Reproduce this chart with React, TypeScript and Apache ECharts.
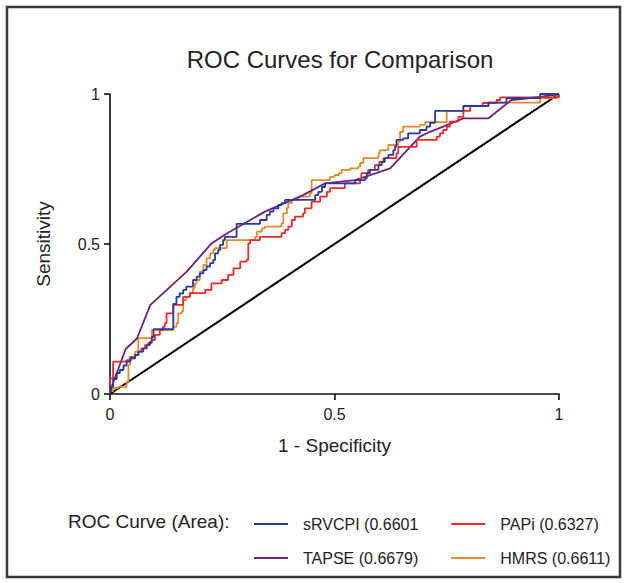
import React, { useEffect, useRef } from "react";
import * as echarts from "echarts";

const FONT = '"Liberation Sans", Arial, Helvetica, sans-serif';

const chartTitle = "ROC Curves for Comparison";
const xAxisTitle = "1 - Specificity";
const yAxisTitle = "Sensitivity";
const legendTitle = "ROC Curve (Area):";
const tickValues = [0, 0.5, 1];

const nameSRVCPI = "sRVCPI (0.6601";
const namePAPi = "PAPi (0.6327)";
const nameTAPSE = "TAPSE (0.6679)";
const nameHMRS = "HMRS (0.6611)";

// [1 - specificity, sensitivity] step points (horizontal then vertical)
const sRVCPI: number[][] = [
  [0, 0], [0, 0.024], [0.007, 0.05], [0.015, 0.07], [0.022, 0.08], [0.03, 0.095], [0.037, 0.108],
  [0.045, 0.119], [0.056, 0.13], [0.063, 0.141], [0.074, 0.152], [0.082, 0.163], [0.089, 0.174],
  [0.093, 0.19], [0.097, 0.216], [0.141, 0.3], [0.148, 0.324], [0.155, 0.335], [0.163, 0.347],
  [0.17, 0.358], [0.185, 0.38], [0.193, 0.391], [0.2, 0.402], [0.208, 0.413], [0.215, 0.425],
  [0.223, 0.436], [0.23, 0.447], [0.234, 0.469], [0.241, 0.48], [0.245, 0.497], [0.252, 0.513],
  [0.256, 0.524], [0.282, 0.567], [0.334, 0.58], [0.349, 0.597], [0.356, 0.608], [0.364, 0.619],
  [0.375, 0.63], [0.382, 0.636], [0.39, 0.647], [0.457, 0.663], [0.464, 0.674], [0.472, 0.69],
  [0.479, 0.702], [0.546, 0.713], [0.568, 0.719], [0.572, 0.736], [0.579, 0.747], [0.598, 0.763],
  [0.605, 0.774], [0.612, 0.786], [0.62, 0.797], [0.631, 0.813], [0.635, 0.825], [0.638, 0.847],
  [0.653, 0.852], [0.664, 0.869], [0.69, 0.88], [0.705, 0.891], [0.713, 0.904], [0.724, 0.944],
  [0.787, 0.96], [0.843, 0.971], [0.883, 0.986], [0.958, 1], [1, 1],
];

const PAPi: number[][] = [
  [0, 0], [0, 0.052], [0.007, 0.108], [0.037, 0.113], [0.045, 0.124], [0.055, 0.13], [0.063, 0.141],
  [0.07, 0.152], [0.078, 0.163], [0.085, 0.17], [0.093, 0.18], [0.1, 0.197], [0.111, 0.213],
  [0.118, 0.224], [0.122, 0.236], [0.126, 0.269], [0.141, 0.297], [0.163, 0.324], [0.178, 0.336],
  [0.212, 0.347], [0.226, 0.369], [0.249, 0.38], [0.263, 0.397], [0.275, 0.419], [0.29, 0.441],
  [0.304, 0.447], [0.308, 0.502], [0.312, 0.513], [0.334, 0.524], [0.382, 0.536], [0.39, 0.547],
  [0.397, 0.558], [0.405, 0.58], [0.412, 0.591], [0.43, 0.602], [0.434, 0.619], [0.449, 0.641],
  [0.468, 0.658], [0.483, 0.674], [0.49, 0.686], [0.523, 0.702], [0.557, 0.719], [0.56, 0.736],
  [0.575, 0.747], [0.59, 0.763], [0.6, 0.774], [0.609, 0.786], [0.638, 0.802], [0.642, 0.824],
  [0.683, 0.847], [0.728, 0.858], [0.735, 0.869], [0.742, 0.88], [0.75, 0.891], [0.757, 0.908],
  [0.776, 0.924], [0.787, 0.944], [0.802, 0.96], [0.83, 0.97], [0.861, 0.98], [0.869, 0.989],
  [1, 1],
];

// TAPSE is drawn as a polyline (tied values)
const TAPSE: number[][] = [
  [0, 0], [0.005, 0.03], [0.015, 0.07], [0.025, 0.11], [0.035, 0.15], [0.06, 0.185], [0.09, 0.297],
  [0.171, 0.408], [0.226, 0.502], [0.26, 0.535], [0.345, 0.608], [0.43, 0.663], [0.479, 0.702],
  [0.546, 0.713], [0.624, 0.752], [0.69, 0.858], [0.713, 0.874], [0.787, 0.919], [0.843, 0.919],
  [0.894, 0.98], [0.958, 0.99], [1, 1],
];

const HMRS: number[][] = [
  [0, 0], [0, 0.01], [0.007, 0.02], [0.018, 0.024], [0.037, 0.041], [0.041, 0.097], [0.045, 0.113],
  [0.048, 0.124], [0.056, 0.141], [0.063, 0.186], [0.093, 0.213], [0.141, 0.224], [0.148, 0.236],
  [0.152, 0.269], [0.16, 0.276], [0.163, 0.313], [0.17, 0.324], [0.178, 0.336], [0.185, 0.352],
  [0.189, 0.369], [0.193, 0.38], [0.2, 0.408], [0.208, 0.43], [0.215, 0.452], [0.223, 0.469],
  [0.23, 0.48], [0.234, 0.486], [0.26, 0.513], [0.323, 0.524], [0.327, 0.541], [0.338, 0.552],
  [0.345, 0.558], [0.382, 0.569], [0.386, 0.602], [0.394, 0.62], [0.397, 0.636], [0.405, 0.647],
  [0.42, 0.658], [0.445, 0.669], [0.449, 0.713], [0.49, 0.724], [0.5, 0.73], [0.51, 0.736],
  [0.516, 0.747], [0.535, 0.752], [0.553, 0.758], [0.557, 0.77], [0.564, 0.786], [0.598, 0.802],
  [0.601, 0.813], [0.62, 0.83], [0.642, 0.841], [0.646, 0.874], [0.653, 0.891], [0.69, 0.897],
  [0.702, 0.906], [0.75, 0.944], [0.787, 0.96], [0.843, 0.971], [0.958, 0.986], [0.995, 1], [1, 1],
];

const reference: number[][] = [[0, 0], [1, 1]];

const colors = {
  sRVCPI: "#2b3a9b",
  PAPi: "#ec2a2a",
  TAPSE: "#6c2279",
  HMRS: "#e38a2f",
};

export default function App() {
  const ref = useRef<HTMLDivElement>(null);
  useEffect(() => {
    if (!ref.current) return;
    const chart = echarts.init(ref.current, null, { renderer: "svg" });
    const textColor = "#222";
    const legendCommon = {
      orient: "horizontal",
      icon: "rect",
      itemWidth: 34,
      itemHeight: 2,
      itemGap: 33,
      padding: 0,
      selectedMode: false,
      textStyle: {
        fontFamily: FONT,
        fontSize: 16,
        color: textColor,
        width: 130,
        padding: [0, 0, 0, 10],
      },
    };
    const option: any = {
      animation: false,
      backgroundColor: "#fff",
      title: {
        text: chartTitle,
        left: 335,
        textAlign: "center",
        top: 42,
        textStyle: { fontFamily: FONT, fontSize: 24, fontWeight: "normal", color: textColor },
      },
      grid: { left: 110, right: 68, top: 94, bottom: 189, containLabel: false },
      xAxis: {
        type: "value",
        min: 0,
        max: 1,
        interval: 0.5,
        name: xAxisTitle,
        nameLocation: "middle",
        nameGap: 42,
        nameTextStyle: { fontFamily: FONT, fontSize: 19, color: textColor },
        axisLine: { show: true, onZero: false, lineStyle: { color: "#111", width: 1.6 } },
        axisTick: { show: true, inside: false, length: 6, lineStyle: { color: "#111", width: 1.6 } },
        axisLabel: {
          fontFamily: FONT,
          fontSize: 16,
          color: textColor,
          margin: 12,
          formatter: (v: number) => (tickValues.includes(v) ? String(v) : ""),
        },
        splitLine: { show: false },
      },
      yAxis: {
        type: "value",
        min: 0,
        max: 1,
        interval: 0.5,
        name: yAxisTitle,
        nameLocation: "middle",
        nameGap: 57,
        nameTextStyle: { fontFamily: FONT, fontSize: 19, color: textColor },
        axisLine: { show: true, onZero: false, lineStyle: { color: "#111", width: 1.6 } },
        axisTick: { show: true, inside: false, length: 6, lineStyle: { color: "#111", width: 1.6 } },
        axisLabel: {
          fontFamily: FONT,
          fontSize: 16,
          color: textColor,
          margin: 10,
          formatter: (v: number) => (tickValues.includes(v) ? String(v) : ""),
        },
        splitLine: { show: false },
      },
      legend: [
        { ...legendCommon, data: [nameSRVCPI, namePAPi], left: 254, top: 516 },
        { ...legendCommon, data: [nameTAPSE, nameHMRS], left: 254, top: 550 },
      ],
      graphic: [
        {
          type: "rect",
          shape: { x: 7, y: 7, width: 613, height: 570 },
          style: { fill: "none", stroke: "#3a3a3a", lineWidth: 2.5 },
          silent: true,
        },
        {
          type: "text",
          left: 68,
          top: 512,
          style: { text: legendTitle, fontFamily: FONT, fontSize: 19, fill: textColor },
        },
      ],
      series: [
        {
          name: "reference",
          type: "line",
          data: reference,
          symbol: "none",
          lineStyle: { color: "#000", width: 2 },
          silent: true,
          z: 1,
        },
        {
          name: nameHMRS,
          type: "line",
          data: HMRS,
          step: "end",
          symbol: "none",
          color: colors.HMRS,
          lineStyle: { color: colors.HMRS, width: 1.8 },
          z: 2,
        },
        {
          name: nameTAPSE,
          type: "line",
          data: TAPSE,
          symbol: "none",
          color: colors.TAPSE,
          lineStyle: { color: colors.TAPSE, width: 1.8 },
          z: 3,
        },
        {
          name: namePAPi,
          type: "line",
          data: PAPi,
          step: "end",
          symbol: "none",
          color: colors.PAPi,
          lineStyle: { color: colors.PAPi, width: 1.8 },
          z: 4,
        },
        {
          name: nameSRVCPI,
          type: "line",
          data: sRVCPI,
          step: "end",
          symbol: "none",
          color: colors.sRVCPI,
          lineStyle: { color: colors.sRVCPI, width: 1.8 },
          z: 5,
        },
      ],
    };
    chart.setOption(option);
    return () => chart.dispose();
  }, []);
  return (
    <div
      ref={ref}
      style={{ position: "fixed", left: 0, top: 0, width: 627, height: 583, background: "#fff" }}
    />
  );
}
